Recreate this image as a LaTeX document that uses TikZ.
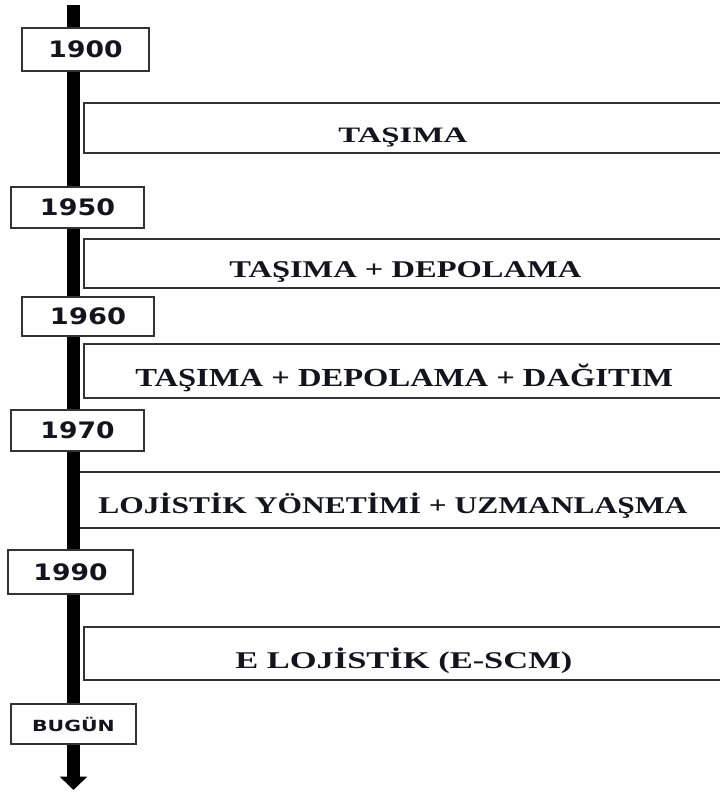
\documentclass[tikz,border=0pt]{standalone}
\usepackage{fontspec}
\setmainfont{Liberation Serif}
\newfontfamily\yearfont{DejaVu Sans}
\usetikzlibrary{arrows.meta}
\definecolor{frame}{HTML}{333333}
\definecolor{ink}{HTML}{14141E}
% stretch a text horizontally to a given width, keeping its height
\newcommand{\stretchto}[2]{\resizebox{#1}{\height}{#2}}
\tikzset{
  yearbox/.style={draw=frame, line width=1.5pt, fill=white, inner sep=0pt,
    text=ink, font=\yearfont\bfseries},
  erabox/.style={draw=frame, line width=1.6pt, fill=white, inner sep=0pt,
    anchor=north west, minimum width=495pt},
  eratext/.style={anchor=base west, inner sep=0pt, text=ink, font=\bfseries},
  timeline/.style={line width=9.75pt, black,
    -{Triangle[width=20pt,length=10pt]}}
}
\begin{document}
\begin{tikzpicture}[x=0.75pt,y=-0.75pt]
\useasboundingbox (0,0) rectangle (720,793);
\clip (0,0) rectangle (720,793);

% period boxes, open to the right
\node[erabox, minimum height=37.5pt]  (e1) at (83,102) {};
\node[erabox, minimum height=36.75pt] (e2) at (83,238) {};
\node[erabox, minimum height=40.5pt]  (e3) at (83,343) {};
\node[erabox, minimum height=42pt]    (e4) at (78,471) {};
\node[erabox, minimum height=39.75pt] (e5) at (83,626) {};

% period labels
\node[eratext] (t1) at (338,142) {\fontsize{16.5}{16.5}\selectfont\stretchto{96.75pt}{TAŞIMA}};
\node[eratext] (t2) at (229,277) {\fontsize{18}{18}\selectfont\stretchto{264pt}{TAŞIMA + DEPOLAMA}};
\node[eratext] (t3) at (135,386) {\fontsize{19.5}{19.5}\selectfont\stretchto{403.5pt}{TAŞIMA + DEPOLAMA + DAĞITIM}};
\node[eratext] (t4) at (98,513)  {\fontsize{18}{18}\selectfont\stretchto{441.75pt}{LOJİSTİK YÖNETİMİ + UZMANLAŞMA}};
\node[eratext] (t5) at (235,668) {\fontsize{18}{18}\selectfont\stretchto{252.75pt}{E LOJİSTİK (E-SCM)}};

% time axis
\coordinate (top) at (73.5,5);
\coordinate (tip) at (73.5,790);
\draw[timeline] (top) -- (tip);

% year markers on the axis
\node[yearbox, minimum width=95.25pt, minimum height=32.25pt] (y1900) at (85.5,49.5)
  {\fontsize{17}{17}\selectfont\stretchto{55.5pt}{1900}};
\node[yearbox, minimum width=99.75pt, minimum height=30.75pt] (y1950) at (77.5,207.5)
  {\fontsize{17}{17}\selectfont\stretchto{56.25pt}{1950}};
\node[yearbox, minimum width=99pt, minimum height=29.25pt] (y1960) at (88,316.5)
  {\fontsize{17}{17}\selectfont\stretchto{57pt}{1960}};
\node[yearbox, minimum width=99.75pt, minimum height=30.75pt] (y1970) at (77.5,430.5)
  {\fontsize{17}{17}\selectfont\stretchto{55.5pt}{1970}};
\node[yearbox, minimum width=93.75pt, minimum height=33pt] (y1990) at (70.5,572)
  {\fontsize{17}{17}\selectfont\stretchto{55.5pt}{1990}};
\node[yearbox, minimum width=93.75pt, minimum height=30pt] (ynow) at (73.5,724)
  {\fontsize{11.5}{11.5}\selectfont\stretchto{62pt}{BUGÜN}};
\end{tikzpicture}
\end{document}
